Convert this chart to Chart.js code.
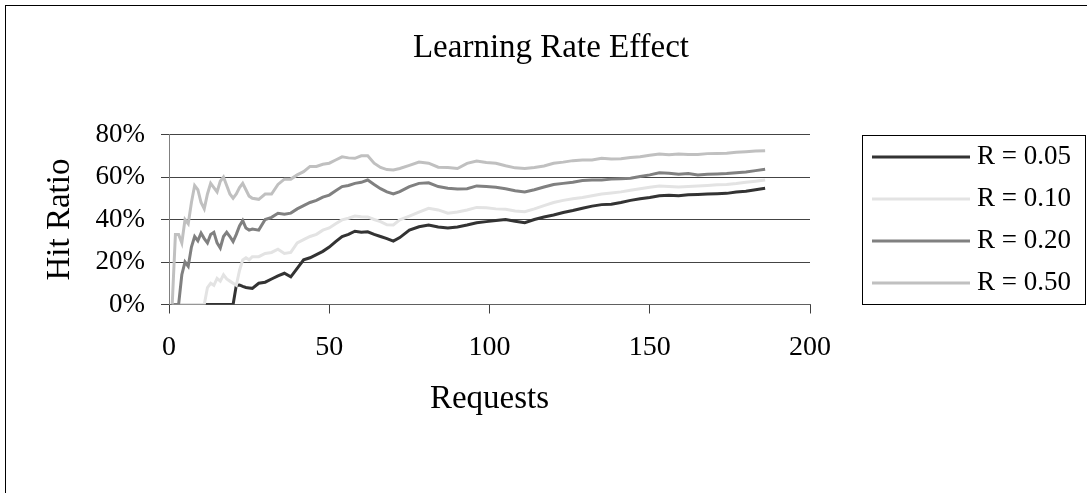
<!DOCTYPE html>
<html>
<head>
<meta charset="utf-8">
<script src="https://cdn.jsdelivr.net/npm/chart.js@4/dist/chart.umd.min.js"></script>
<style>
  html, body { margin: 0; padding: 0; background: #fff; overflow: hidden; }
  canvas { display: block; }
</style>
</head>
<body>
<canvas id="chart" width="1100" height="500" style="width:1100px;height:500px"></canvas>
<script>
const chartTitle = 'Learning Rate Effect';
const requests = [
    1, 2, 3, 4, 5, 6, 7, 8, 9, 10, 11, 12, 13, 14, 15, 16, 17, 18, 19, 20, 21, 22, 23, 24, 25, 26,
    28, 30, 32, 34, 36, 38, 40, 42, 44, 46, 48, 50, 52, 54, 56, 58, 60, 62, 64, 66, 68, 70, 72,
    75, 78, 81, 84, 87, 90, 93, 96, 99, 102, 105, 108, 111, 114, 117, 120, 123, 126, 129, 132, 135, 138,
    141, 144, 147, 150, 153, 156, 159, 162, 165, 168, 171, 174, 177, 180, 183, 186
];
const rate005 = [
    0, 0, 0, 0, 0, 0, 0, 0, 0, 0, 0, 0, 0, 0, 0, 0, 0, 0, 0, 0, 9, 9.2, 8.5, 8, 7.8, 7.6,
    10, 10.5, 12, 13.5, 14.7, 13, 17, 21, 22, 23.5, 25, 27, 29.6, 32, 33, 34.5, 34, 34.2, 33, 32, 31, 29.8, 31.5,
    35, 36.6, 37.4, 36.5, 36, 36.5, 37.4, 38.5, 39, 39.5, 40, 39.2, 38.5, 40, 41.2, 42.1, 43.3, 44.2, 45.3, 46.3, 47, 47.2,
    48, 49, 49.8, 50.4, 51.2, 51.4, 51.2, 51.6, 51.8, 52, 52.1, 52.3, 52.9, 53.3, 54, 54.7
];
const rate010 = [
    0, 0, 0, 0, 0, 0, 0, 0, 0, 0, 0, 8, 10, 9, 12.3, 11, 14, 12, 11, 10, 9, 16, 21, 22, 21, 22.5,
    22.5, 24, 24.5, 26, 24, 24.5, 29, 30.5, 32, 33, 35, 36, 38, 39.8, 40.6, 41.6, 41.3, 41.2, 40, 39, 37.5, 37.4, 39.8,
    41.6, 43.5, 45.3, 44.5, 43, 43.5, 44.5, 45.7, 45.5, 45, 44.8, 44, 43.7, 45, 46.5, 48, 49, 49.8, 50.4, 51.2, 52, 52.5,
    53, 53.8, 54.5, 55.2, 55.8, 55.5, 55.3, 55.5, 55.8, 56, 56.3, 56.5, 56.9, 57.5, 58, 58.6
];
const rate020 = [
    0, 0, 0, 14, 20, 18, 27, 32, 30, 33.6, 31, 29, 33, 34, 29, 26.6, 32, 34, 32, 29.6, 33, 37, 39.5, 36, 35, 35.5,
    35, 40, 41, 42.9, 42.5, 43, 45, 46.5, 48, 49, 50.5, 51.5, 53.5, 55.5, 56, 57, 57.5, 58.6, 56.5, 54.5, 53, 52, 53.1,
    55.5, 57, 57.3, 55.5, 54.7, 54.3, 54.5, 55.8, 55.5, 55.2, 54.5, 53.5, 53, 54, 55.3, 56.5, 57, 57.5, 58.3, 58.6, 58.6, 59,
    59.2, 59.4, 60.2, 61, 62, 61.8, 61.3, 61.6, 61, 61.3, 61.4, 61.6, 62, 62.4, 63, 63.6
];
const rate050 = [
    0, 33, 33, 29, 40, 38, 48, 56, 54, 48, 45, 52, 57, 55, 53, 58, 60, 56, 52, 50, 52, 55, 57, 54, 51, 50,
    49.5, 52, 52, 56.5, 59, 59, 61, 62.5, 65, 65, 66, 66.5, 68, 69.5, 69, 68.8, 70, 70, 66.5, 64.5, 63.5, 63.3, 64,
    65.5, 67, 66.5, 64.6, 64.5, 64, 66.4, 67.5, 66.8, 66.5, 65.3, 64.3, 64, 64.5, 65.2, 66.5, 67, 67.7, 68, 68, 68.8, 68.5,
    68.6, 69.2, 69.5, 70.2, 70.8, 70.5, 70.8, 70.6, 70.6, 71, 71.1, 71.2, 71.6, 71.9, 72.2, 72.4
];
const seriesLabels = ['R = 0.05', 'R = 0.10', 'R = 0.20', 'R = 0.50'];
const seriesColors = ['#333333', '#e3e3e3', '#808080', '#c0c0c0'];
const xTicks = [0, 50, 100, 150, 200];
const yTicks = [0, 20, 40, 60, 80];

const serif = "'Liberation Serif', 'Times New Roman', serif";

function toPoints(values) {
    return requests.map((x, i) => ({ x: x, y: values[i] }));
}

// outer frame, title centred on the whole frame, and the boxed legend
const framePlugin = {
    id: 'frame',
    afterDraw(chart) {
        const ctx = chart.ctx;
        ctx.save();
        ctx.strokeStyle = '#000';
        ctx.lineWidth = 1;
        ctx.strokeRect(5.5, 5.5, 1089, 492);

        ctx.fillStyle = '#000';
        ctx.font = '33px ' + serif;
        ctx.textAlign = 'center';
        ctx.textBaseline = 'alphabetic';
        ctx.fillText(chartTitle, 551, 57);

        ctx.strokeRect(862.5, 135.5, 223, 169);
        ctx.font = '27px ' + serif;
        ctx.textBaseline = 'middle';
        ctx.textAlign = 'left';
        chart.data.datasets.forEach((ds, i) => {
            const y = 157 + i * 42;
            ctx.fillStyle = ds.borderColor;
            ctx.fillRect(872, y - 1.5, 98, 3);
            ctx.fillStyle = '#000';
            ctx.fillText(ds.label, 977, y);
        });
        ctx.restore();
    }
};

new Chart(document.getElementById('chart'), {
    type: 'line',
    data: {
        datasets: [rate005, rate010, rate020, rate050].map((values, i) => ({
            label: seriesLabels[i],
            data: toPoints(values),
            borderColor: seriesColors[i],
            backgroundColor: seriesColors[i],
            borderWidth: 3,
            pointRadius: 0,
            tension: 0,
            order: 3 - i
        }))
    },
    options: {
        responsive: false,
        animation: false,
        devicePixelRatio: 1,
        layout: { padding: { left: 0, right: 290, top: 134.5, bottom: 0 } },
        plugins: {
            legend: { display: false },
            tooltip: { enabled: false },
            title: { display: false }
        },
        scales: {
            x: {
                type: 'linear',
                min: 0,
                max: 200,
                afterBuildTicks(scale) { scale.ticks = xTicks.map(v => ({ value: v })); },
                afterFit(scale) { scale.height = 195.5; },
                ticks: { color: '#000', font: { family: serif, size: 28 }, padding: 17, maxRotation: 0 },
                grid: { drawOnChartArea: false, drawTicks: true, tickLength: 9, tickColor: '#404040' },
                border: { color: '#606060', width: 1 },
                title: {
                    display: true,
                    text: 'Requests',
                    color: '#000',
                    font: { family: serif, size: 33 },
                    padding: { top: 0, bottom: 81 }
                }
            },
            y: {
                min: 0,
                max: 80,
                afterBuildTicks(scale) { scale.ticks = yTicks.map(v => ({ value: v })); },
                afterFit(scale) { scale.width = 169; },
                ticks: { color: '#000', font: { family: serif, size: 27 }, padding: 16, callback: v => v + '%' },
                grid: { color: '#444', tickLength: 8, tickColor: '#404040' },
                border: { color: '#808080', width: 1 },
                title: {
                    display: true,
                    text: 'Hit Ratio',
                    color: '#000',
                    font: { family: serif, size: 33 },
                    padding: { top: 41, bottom: 0 }
                }
            }
        }
    },
    plugins: [framePlugin]
});
</script>
</body>
</html>
